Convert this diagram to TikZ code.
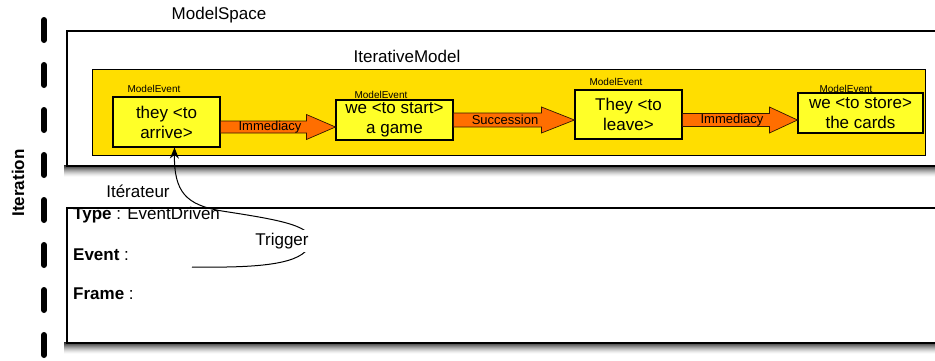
\documentclass[tikz,border=0pt]{standalone}
\usepackage{fontspec}
\setmainfont{Liberation Sans}
\usetikzlibrary{arrows.meta,calc}
\definecolor{bigyellow}{RGB}{255,222,0}
\definecolor{evyellow}{RGB}{255,255,40}
\definecolor{arrorange}{RGB}{255,110,0}
\tikzset{
  frame/.style={draw=black,fill=white,line width=1.5pt},
  modelbox/.style={draw=black,fill=bigyellow,line width=0.7pt},
  evbox/.style={draw=black,fill=evyellow,line width=1.1pt,inner sep=0pt,align=center,font=\fontsize{17}{20}\selectfont},
  evlabel/.style={anchor=base,inner sep=0pt,font=\fontsize{10}{12}\selectfont},
  biglabel/.style={inner sep=0pt,font=\fontsize{17}{20}\selectfont},
  fieldlabel/.style={anchor=base west,inner sep=0pt,font=\fontsize{17}{20}\selectfont},
  arrbody/.style={draw=black!80!arrorange,fill=arrorange,line width=0.7pt},
  arrlabel/.style={inner sep=0pt,font=\fontsize{13}{15}\selectfont},
  trig/.style={draw=black,line width=1pt,-{Stealth[length=11pt,width=9pt]}},
}
% block arrow from node #1 to node #2 at height #3, head length #4, body half #5, head half #6
\newcommand{\blockarr}[6]{%
  \path let \p1=(#1.east), \p2=(#2.west) in
    [arrbody] (\x1,#3+#5) -- (\x2-#4,#3+#5) -- (\x2-#4,#3+#6) -- (\x2,#3)
      -- (\x2-#4,#3-#6) -- (\x2-#4,#3-#5) -- (\x1,#3-#5) -- cycle;
}
% soft shadow under a frame: left x, right x, bottom y
\newcommand{\softshadow}[3]{%
  \foreach \i in {0,...,11}{
    \pgfmathsetmacro{\op}{0.85*(1-\i/12)^1.5}
    \fill[black,fill opacity=\op] (#1,#3-\i) rectangle (#2,#3-\i-1);
  }
}
\begin{document}
\begin{tikzpicture}[x=1pt,y=1pt]
\useasboundingbox (0,0) rectangle (935,-360);
\clip (0,0) rectangle (935,-360);
\fill[white] (0,0) rectangle (935,-360);

% dashed iteration line
\draw[line width=6pt,line cap=round,dash pattern=on 20pt off 25pt] (44,-20) -- (44,-362);
\node[biglabel,font=\fontsize{17}{20}\selectfont\bfseries,rotate=90] (iterlbl) at (18,-183) {Iteration};

% ModelSpace frame with shadow
\softshadow{64}{945}{-165}
\node[frame,anchor=north west,minimum width=880pt,minimum height=135pt,inner sep=0pt] (space) at (66,-30) {};
\node[biglabel] (spacelbl) at (219,-15) {ModelSpace};

% IterativeModel
\node[modelbox,anchor=north west,minimum width=833pt,minimum height=86pt,inner sep=0pt] (model) at (92,-69) {};
\node[biglabel] (modellbl) at (407,-56) {IterativeModel};

% events
\node[evbox,minimum width=107pt,minimum height=50pt] (e1) at (166.5,-122) {they <to\\arrive>};
\node[evbox,minimum width=117pt,minimum height=40pt] (e2) at (394.5,-120) {we <to start>\\a game};
\node[evbox,minimum width=107pt,minimum height=49pt] (e3) at (628.5,-114.5) {They <to\\leave>};
\node[evbox,minimum width=125pt,minimum height=40pt] (e4) at (860.5,-113) {we <to store>\\the cards};

\node[evlabel] (l1) at (154,-92) {ModelEvent};
\node[evlabel] (l2) at (381,-98) {ModelEvent};
\node[evlabel] (l3) at (616,-85) {ModelEvent};
\node[evlabel] (l4) at (846,-92) {ModelEvent};

% block arrows
\blockarr{e1}{e2}{-127}{29}{6}{12.5}
\node[arrlabel] (a1) at (270,-127) {Immediacy};
\blockarr{e2}{e3}{-120}{33}{7}{13}
\node[arrlabel] (a2) at (505,-120) {Succession};
\blockarr{e3}{e4}{-120}{28}{6.5}{13}
\node[arrlabel] (a3) at (732,-120) {Immediacy};

% Iteration frame with shadow
\softshadow{64}{945}{-342}
\node[frame,anchor=north west,minimum width=880pt,minimum height=135pt,inner sep=0pt] (iter) at (66,-207) {};
\node[biglabel] (iterator) at (138,-191) {Itérateur};
\node[fieldlabel] (ftype) at (73,-219) {\textbf{Type} : EventDriven};
\node[fieldlabel] (fevent) at (73,-260) {\textbf{Event} :};
\node[fieldlabel] (fframe) at (73,-299) {\textbf{Frame} :};

% trigger connector
\coordinate (trigstart) at (192,-267);
\draw[trig] (trigstart) .. controls (262,-268) and (302,-264) .. (310,-245)
  .. controls (318,-226) and (280,-220) .. (222,-211)
  .. controls (186,-205) and (174,-192) .. ([xshift=8pt]e1.south);
\node[biglabel,fill=white,inner sep=3pt] (trigger) at (282,-241) {Trigger};
\end{tikzpicture}
\end{document}
